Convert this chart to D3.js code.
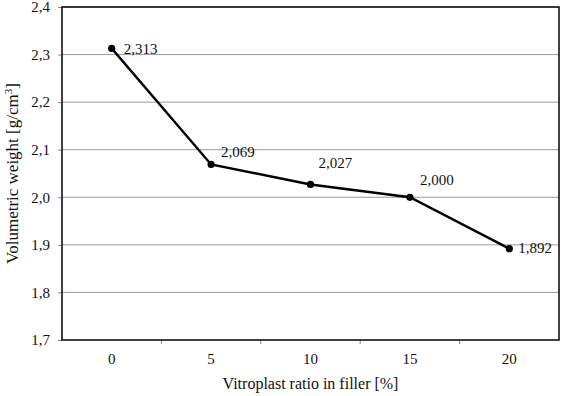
<!DOCTYPE html>
<html>
<head>
<meta charset="utf-8">
<script src="https://cdn.jsdelivr.net/npm/d3@7"></script>
<style>
  body{margin:0;background:#fff}
  text{font-family:"Liberation Serif","DejaVu Serif",serif;fill:#111}
</style>
</head>
<body>
<svg id="chart" width="562" height="396"></svg>
<script>
const categories = ["0","5","10","15","20"]
const values = [2.313, 2.069, 2.027, 2.000, 1.892]
const valueLabels = ["2,313","2,069","2,027","2,000","1,892"]
const yTicks = [1.7, 1.8, 1.9, 2.0, 2.1, 2.2, 2.3, 2.4]

// label nudges relative to each point
const labelDx = [12, 10, 8, 10, 9]
const labelDy = [6, -7, -16, -12, 4]

const margin = {left: 62, right: 3, top: 7, bottom: 56}
const W = 562, H = 396
const svg = d3.select("#chart")

const x = d3.scaleBand()
    .domain(categories)
    .range([margin.left, W - margin.right])
const y = d3.scaleLinear()
    .domain([1.7, 2.4])
    .range([H - margin.bottom, margin.top])

const fmt = d => d.toFixed(1).replace(".", ",")

// grid
svg.append("g")
  .selectAll("line")
  .data(yTicks.slice(1))
  .join("line")
    .attr("x1", margin.left).attr("x2", W - margin.right)
    .attr("y1", d => y(d)).attr("y2", d => y(d))
    .attr("stroke", "#9a9a9a")
    .attr("stroke-width", 1)

// y axis
const yAxis = svg.append("g")
    .attr("transform", `translate(${margin.left},0)`)
    .call(d3.axisLeft(y).tickValues(yTicks).tickFormat(fmt).tickSize(4).tickPadding(8))
yAxis.select(".domain").remove()
yAxis.selectAll("line").attr("stroke", "#888")
yAxis.selectAll("text").attr("font-size", 15).attr("fill", "#111")

// x axis ticks at band edges
const edges = categories.slice(1).map(c => x(c))
svg.append("g")
  .selectAll("line")
  .data(edges)
  .join("line")
    .attr("x1", d => d).attr("x2", d => d)
    .attr("y1", y(1.7)).attr("y2", y(1.7) + 4)
    .attr("stroke", "#888")
const xAxis = svg.append("g")
    .attr("transform", `translate(0,${y(1.7)})`)
    .call(d3.axisBottom(x).tickSize(0).tickPadding(13))
xAxis.select(".domain").remove()
xAxis.selectAll("text").attr("font-size", 15).attr("fill", "#111")

// frame
svg.append("rect")
    .attr("x", margin.left).attr("y", margin.top)
    .attr("width", W - margin.right - margin.left)
    .attr("height", y(1.7) - margin.top)
    .attr("fill", "none")
    .attr("stroke", "#111")
    .attr("stroke-width", 1.6)

// line + points
const cx = (d, i) => x(categories[i]) + x.bandwidth() / 2
svg.append("path")
    .datum(values)
    .attr("d", d3.line().x(cx).y(d => y(d)))
    .attr("fill", "none")
    .attr("stroke", "#000")
    .attr("stroke-width", 2.4)
svg.append("g")
  .selectAll("circle")
  .data(values)
  .join("circle")
    .attr("cx", cx).attr("cy", d => y(d))
    .attr("r", 3.6)
    .attr("fill", "#000")

svg.append("g")
  .selectAll("text")
  .data(values)
  .join("text")
    .attr("x", (d, i) => cx(d, i) + labelDx[i])
    .attr("y", (d, i) => y(d) + labelDy[i])
    .attr("font-size", 15)
    .text((d, i) => valueLabels[i])

// axis titles
svg.append("text")
    .attr("x", (margin.left + W - margin.right) / 2)
    .attr("y", 389)
    .attr("text-anchor", "middle")
    .attr("font-size", 16)
    .text("Vitroplast ratio in filler [%]")
const yt = svg.append("text")
    .attr("transform", `translate(18,${(margin.top + y(1.7)) / 2}) rotate(-90)`)
    .attr("text-anchor", "middle")
    .attr("font-size", 17)
yt.append("tspan").text("Volumetric weight [g/cm")
yt.append("tspan").attr("font-size", 11).attr("dy", -6).text("3")
yt.append("tspan").attr("dy", 6).text("]")
</script>
</body>
</html>
